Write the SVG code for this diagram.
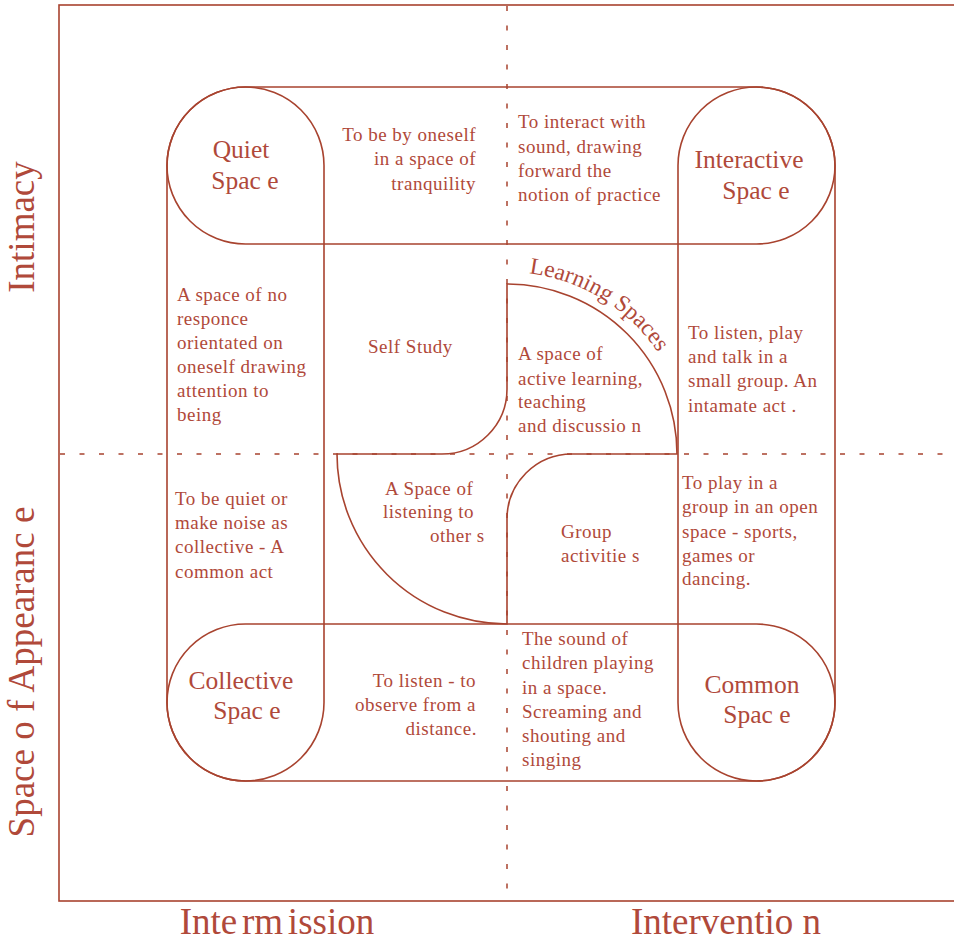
<svg xmlns="http://www.w3.org/2000/svg" width="954" height="942" viewBox="0 0 954 942">
<defs>
<style>
.ln{fill:none;stroke:#a8432f;stroke-width:1.6}
.dash{fill:none;stroke:#a8432f;stroke-width:1.5;stroke-dasharray:5 14.5}
text{font-family:"Liberation Serif","Times New Roman",serif;fill:#b0493a}
.b{font-size:19px;letter-spacing:0.5px}
.h{font-size:25.5px;text-anchor:middle}
.ax{font-size:37px}
.e{text-anchor:end}
</style>
<path id="arcLS" d="M 507 272 A 182 182 0 0 1 689 454"/>
</defs>
<rect width="954" height="942" fill="#fff"/>
<g id="frame">
<rect x="59" y="5" width="910" height="896" class="ln" stroke-width="2"/>
</g>
<g id="connectors">
<line x1="507" y1="6" x2="507" y2="900" class="dash"/>
<line x1="60" y1="454" x2="954" y2="454" class="dash"/>
</g>
<g id="lanes">
<rect id="lane-top" x="167" y="87" width="668" height="157" rx="78.5" class="ln"/>
<rect id="lane-bottom" x="167" y="624" width="668" height="157" rx="78.5" class="ln"/>
<rect id="lane-left" x="167" y="87" width="157" height="694" rx="78.5" class="ln"/>
<rect id="lane-right" x="678" y="87" width="157" height="694" rx="78.5" class="ln"/>
</g>
<g id="learning-spaces">
<path d="M 507 284 A 170 170 0 0 1 677 454 L 572 454 A 65 65 0 0 0 507 519 L 507 624 A 170 170 0 0 1 337 454 L 442 454 A 65 65 0 0 0 507 389 Z" fill="#fff" class="ln"/>
<text font-size="23.5"><textPath href="#arcLS" startOffset="22">Learning Spaces</textPath></text>
</g>
<g id="quiet-space"><text class="h" x="241" y="158">Quiet</text><text class="h" x="245" y="189">Spac e</text></g>
<g id="interactive-space"><text class="h" x="749" y="168">Interactive</text><text class="h" x="756" y="199">Spac e</text></g>
<g id="collective-space"><text class="h" x="241" y="689">Collective</text><text class="h" x="247" y="719">Spac e</text></g>
<g id="common-space"><text class="h" x="752" y="693">Common</text><text class="h" x="757" y="723">Spac e</text></g>
<g id="axis-labels">
<text class="ax" transform="translate(34 227) rotate(-90)" text-anchor="middle">Intimacy</text>
<text class="ax" transform="translate(34 672) rotate(-90)" text-anchor="middle">Space o f  Appearanc e</text>
<text class="ax" x="277" y="934" text-anchor="middle" font-size="36" word-spacing="-4.5">Inte rm ission</text>
<text class="ax" x="726" y="934" text-anchor="middle" font-size="36">Interventio n</text>
</g>
<g id="t-tranquility"><text class="b e" x="476" y="141">To be by oneself</text><text class="b e" x="476" y="165">in a space of</text><text class="b e" x="476" y="190">tranquility</text></g>
<g id="t-interact"><text class="b" x="518" y="128">To interact with</text><text class="b" x="518" y="153">sound, drawing</text><text class="b" x="518" y="177">forward the</text><text class="b" x="518" y="201">notion of practice</text></g>
<g id="t-no-responce"><text class="b" x="177" y="301">A space of no</text><text class="b" x="177" y="325">responce</text><text class="b" x="177" y="349">orientated on</text><text class="b" x="177" y="373">oneself drawing</text><text class="b" x="177" y="397">attention to</text><text class="b" x="177" y="421">being</text></g>
<g id="t-self-study"><text class="b" x="368" y="353">Self Study</text></g>
<g id="t-active"><text class="b" x="518" y="360">A space of</text><text class="b" x="518" y="385">active learning,</text><text class="b" x="518" y="408">teaching</text><text class="b" x="518" y="432">and discussio n</text></g>
<g id="t-small-group"><text class="b" x="688" y="339">To listen, play</text><text class="b" x="688" y="363">and talk in a</text><text class="b" x="688" y="387">small group. An</text><text class="b" x="688" y="412">intamate act .</text></g>
<g id="t-listening"><text class="b" x="385" y="495">A Space of</text><text class="b" x="383" y="518">listening to</text><text class="b" x="430" y="542">other s</text></g>
<g id="t-group"><text class="b" x="561" y="538">Group</text><text class="b" x="561" y="562">activitie s</text></g>
<g id="t-collective"><text class="b" x="175" y="505">To be quiet or</text><text class="b" x="175" y="529">make noise  as</text><text class="b" x="175" y="553">collective - A</text><text class="b" x="175" y="578">common act</text></g>
<g id="t-observe"><text class="b e" x="476" y="687">To listen - to</text><text class="b e" x="476" y="711">observe from a</text><text class="b e" x="477" y="735">distance.</text></g>
<g id="t-play"><text class="b" x="682" y="489">To play in a</text><text class="b" x="682" y="513">group in an open</text><text class="b" x="682" y="538">space - sports,</text><text class="b" x="682" y="562">games or</text><text class="b" x="682" y="585">dancing.</text></g>
<g id="t-sound"><text class="b" x="522" y="645">The sound of</text><text class="b" x="522" y="669">children playing</text><text class="b" x="522" y="694">in a space.</text><text class="b" x="522" y="718">Screaming and</text><text class="b" x="522" y="742">shouting and</text><text class="b" x="522" y="766">singing</text></g>
</svg>
